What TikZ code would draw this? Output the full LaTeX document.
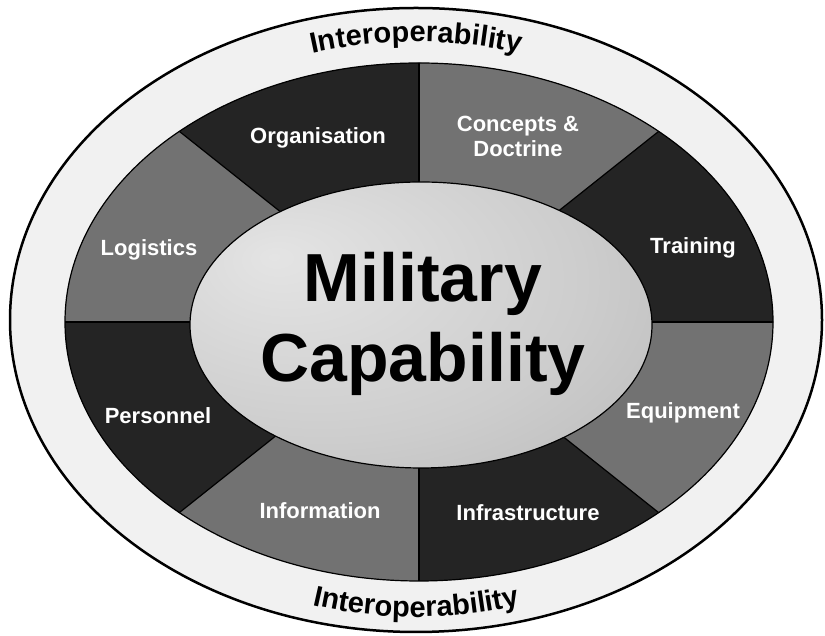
\documentclass[tikz,border=0pt]{standalone}
\usepackage{fontspec}
\setmainfont{Liberation Sans}
\usetikzlibrary{decorations.text}
\definecolor{ringfill}{HTML}{F1F1F1}
\definecolor{darkseg}{HTML}{242424}
\definecolor{grayseg}{HTML}{727272}
\definecolor{innerlight}{HTML}{E4E4E4}
\definecolor{innermid}{HTML}{CDCDCD}
\definecolor{innerdark}{HTML}{A4A4A4}
\pgfdeclareradialshading{innershade}{\pgfpoint{-16bp}{12bp}}{color(0bp)=(innerlight); color(28bp)=(innermid); color(66bp)=(innerdark); color(80bp)=(innerdark)}
\begin{document}
\begin{tikzpicture}[x=1pt,y=1pt,
  seglabel/.style={text=white, font=\fontsize{22}{25}\selectfont\bfseries, align=center, inner sep=0pt},
  biglabel/.style={text=black, font=\fontsize{68}{80}\selectfont\bfseries, inner sep=0pt, anchor=base},
  divider/.style={draw=black, line width=1.2pt},
  rimline/.style={draw=black, line width=1.2pt},
  ringtext/.style={decorate, decoration={text along path, text align=center,
     text={|\fontsize{29}{29}\selectfont\bfseries|Interoperability}}}
]
\useasboundingbox (0,0) rectangle (825,636);
\fill[white] (0,0) rectangle (825,636);
% outer ring
\draw[fill=ringfill, line width=2.5pt] (416,316) ellipse [x radius=406, y radius=312];
% sector geometry
\coordinate (c) at (419,314);
\coordinate (p0) at (919,314);
\coordinate (p1) at (810,625);
\coordinate (p2) at (419,814);
\coordinate (p3) at (28,625);
\coordinate (p4) at (-81,314);
\coordinate (p5) at (28,3);
\coordinate (p6) at (419,-186);
\coordinate (p7) at (810,3);
\begin{scope}
  \clip (419,314) ellipse [x radius=354, y radius=259];
  \fill[darkseg] (-100,-200) rectangle (950,850);
  \fill[grayseg] (c) -- (p1) -- (p2) -- cycle;
  \fill[grayseg] (c) -- (p3) -- (p4) -- cycle;
  \fill[grayseg] (c) -- (p5) -- (p6) -- cycle;
  \fill[grayseg] (c) -- (p7) -- (p0) -- cycle;
  \draw[divider] (p0) -- (p4);
  \draw[divider] (p2) -- (p6);
  \draw[divider] (p1) -- (p5);
  \draw[divider] (p3) -- (p7);
\end{scope}
\draw[rimline] (419,314) ellipse [x radius=354, y radius=259];
% inner ellipse
\path[shade, shading=innershade] (421,311) ellipse [x radius=231, y radius=143];
\draw[rimline] (421,311) ellipse [x radius=231, y radius=143];
% sector labels
\node[seglabel] (org) at (318,498) {Organisation};
\node[seglabel] (cd) at (518,500) {Concepts \&\\Doctrine};
\node[seglabel] (log) at (149,386) {Logistics};
\node[seglabel] (tra) at (693,388) {Training};
\node[seglabel] (per) at (158,220) {Personnel};
\node[seglabel] (equ) at (683,223) {Equipment};
\node[seglabel] (inf) at (320,125) {Information};
\node[seglabel] (ifs) at (528,123) {Infrastructure};
% centre
\node[biglabel] (mil) at (423,334) {Military};
\node[biglabel] (cap) at (423,254) {Capability};
% ring texts
\path[ringtext] (416,316) ++(150:370 and 278) arc[start angle=150, end angle=30, x radius=370, y radius=278];
\path[ringtext] (416,316) ++(210:370 and 297) arc[start angle=210, end angle=330, x radius=370, y radius=297];
\end{tikzpicture}
\end{document}
